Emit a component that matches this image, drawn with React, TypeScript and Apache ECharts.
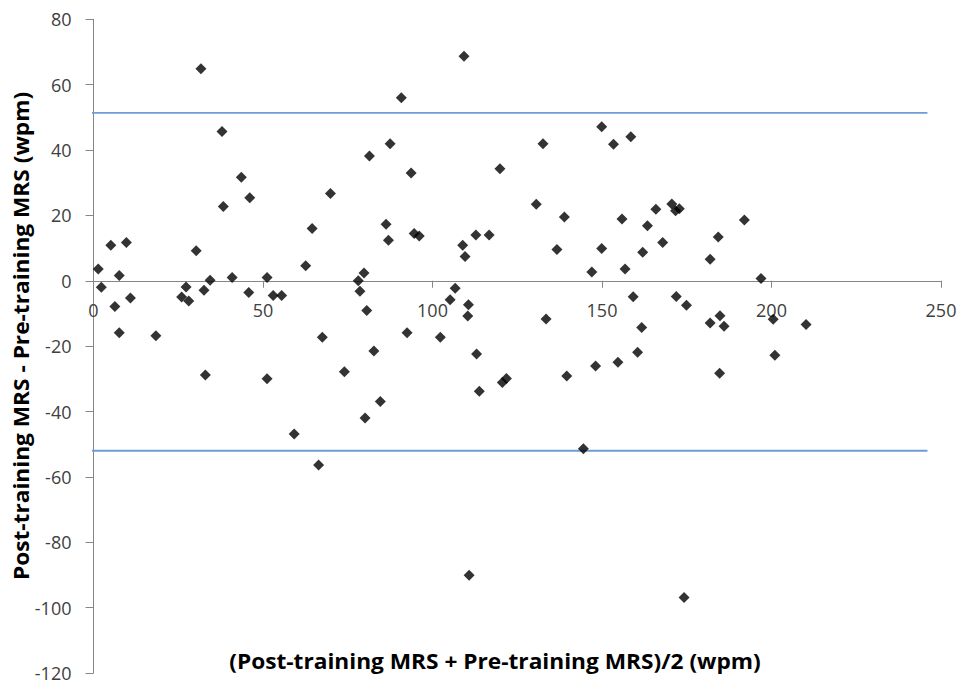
import { useEffect, useRef } from "react";
import * as echarts from "echarts";

// Mean of post- and pre-training MRS (wpm)
const meanWpm: number[] = [
  1.4, 2.3, 5.1, 6.3, 7.6, 9.7, 7.6, 10.9, 18.4,
  26.0, 27.3, 28.1, 30.3, 31.7, 32.6, 33.0, 34.4, 37.9, 38.3, 40.9, 43.6, 45.8, 46.1,
  51.2, 51.2, 53.0, 55.5, 59.2, 62.6, 64.5, 66.4, 67.5, 69.9,
  74.0, 78.1, 78.6, 79.8, 80.1, 80.6, 81.4, 82.7, 84.6, 86.3, 87.0, 87.5, 90.8, 92.5,
  93.7, 94.6, 96.1,
  102.3, 105.2, 106.7, 108.9, 109.3, 109.6, 110.6, 110.4, 110.8, 112.8, 113.0, 113.8,
  116.7, 119.9, 120.6, 121.8, 130.6, 132.6, 133.5, 136.7, 138.9, 139.6, 144.5, 147.0,
  148.1,
  149.9, 149.9, 153.4, 154.7, 155.9, 156.8, 158.5, 159.2, 160.5, 161.7, 162.0, 163.4,
  165.9, 167.9, 170.6, 171.7, 171.9, 172.8, 174.2, 174.9, 181.9, 181.9, 184.3, 184.8,
  184.7, 186.0, 192.0, 196.9, 200.5, 201.0, 210.2,
];

// Difference post-training minus pre-training MRS (wpm)
const diffWpm: number[] = [
  3.6, -2.0, 10.9, -7.9, 1.6, 11.7, -15.9, -5.3, -16.8,
  -5.0, -1.9, -6.2, 9.2, 64.9, -2.9, -28.8, 0.2, 45.7, 22.7, 1.0, 31.7, -3.6, 25.4,
  1.0, -30.0, -4.5, -4.5, -46.9, 4.6, 16.0, -56.4, -17.3, 26.7,
  -27.8, 0.0, -3.2, 2.4, -42.0, -9.1, 38.2, -21.5, -36.9, 17.3, 12.4, 41.9, 56.0, -15.9,
  33.0, 14.5, 13.7,
  -17.3, -5.8, -2.3, 10.9, 68.7, 7.4, -7.3, -10.8, -90.1, 14.0, -22.4, -33.8,
  14.0, 34.3, -31.1, -29.9, 23.4, 41.9, -11.7, 9.6, 19.5, -29.1, -51.4, 2.7,
  -26.1,
  47.1, 9.9, 41.8, -24.9, 18.9, 3.6, 44.1, -4.9, -21.9, -14.3, 8.7, 16.8,
  21.9, 11.7, 23.5, 21.4, -4.8, 22.0, -96.9, -7.5, 6.6, -12.9, 13.4, -10.7,
  -28.3, -13.9, 18.6, 0.7, -11.8, -22.8, -13.4,
];

// Limits of agreement
const upperLimit = 51.4;
const lowerLimit = -52.0;
const limitSpan: number[] = [-1.5, 246];

const xTitle = "(Post-training MRS + Pre-training MRS)/2 (wpm)";
const yTitle = "Post-training MRS - Pre-training MRS (wpm)";

const Y_MIN = -120;
const Y_MAX = 80;

export default function App() {
  const ref = useRef<HTMLDivElement>(null);

  useEffect(() => {
    if (!ref.current) return;
    const chart = echarts.init(ref.current, undefined, { renderer: "svg" });
    const points = meanWpm.map((x, i) => [x, diffWpm[i]]);
    const axisColor = "#868686";
    const gridTop = 19.3;
    const gridBottom = 11;
    const gridHeight = 684 - gridTop - gridBottom;
    // place the horizontal axis at y = 0
    const zeroOffset = -gridHeight * (0 - Y_MIN) / (Y_MAX - Y_MIN);
    const labelStyle = {
      color: "#404040",
      fontFamily: "Open Sans",
      fontSize: 18,
    };
    chart.setOption({
      animation: false,
      backgroundColor: "#ffffff",
      grid: {
        left: 93.5,
        right: 22,
        top: gridTop,
        bottom: gridBottom,
        containLabel: false,
        outerBoundsMode: "none",
      },
      xAxis: {
        type: "value",
        min: 0,
        max: 250,
        interval: 50,
        position: "bottom",
        offset: zeroOffset,
        axisLine: { show: true, onZero: false, lineStyle: { color: axisColor, width: 1 } },
        axisTick: { show: true, inside: false, length: 7, lineStyle: { color: axisColor } },
        axisLabel: { ...labelStyle, margin: 20 },
        splitLine: { show: false },
      },
      yAxis: {
        type: "value",
        min: Y_MIN,
        max: Y_MAX,
        interval: 20,
        axisLine: { show: true, onZero: false, lineStyle: { color: axisColor, width: 1 } },
        axisTick: { show: true, inside: false, length: 8, lineStyle: { color: axisColor } },
        axisLabel: { ...labelStyle, margin: 22 },
        splitLine: { show: false },
      },
      series: [
        {
          type: "line",
          data: limitSpan.map((x) => [x, upperLimit]),
          symbol: "none",
          clip: false,
          silent: true,
          lineStyle: { color: "#6f9bd6", width: 1.8 },
          z: 1,
        },
        {
          type: "line",
          data: limitSpan.map((x) => [x, lowerLimit]),
          symbol: "none",
          clip: false,
          silent: true,
          lineStyle: { color: "#6f9bd6", width: 1.8 },
          z: 1,
        },
        {
          type: "scatter",
          data: points,
          symbol: "diamond",
          symbolSize: 11,
          itemStyle: { color: "#000000" },
          z: 3,
        },
      ],
      graphic: [
        {
          type: "text",
          x: 495,
          y: 661,
          scaleX: 1.08,
          style: {
            text: xTitle,
            fill: "#000000",
            fontFamily: "Open Sans",
            fontWeight: "bold",
            fontSize: 21,
            align: "center",
            verticalAlign: "middle",
          },
        },
        {
          type: "text",
          x: 21,
          y: 336,
          rotation: Math.PI / 2,
          scaleX: 1.08,
          style: {
            text: yTitle,
            fill: "#000000",
            fontFamily: "Open Sans",
            fontWeight: "bold",
            fontSize: 21,
            align: "center",
            verticalAlign: "middle",
          },
        },
      ],
    });
    return () => chart.dispose();
  }, []);

  return (
    <div
      ref={ref}
      style={{ position: "fixed", left: 0, top: 0, width: 963, height: 684, background: "#fff" }}
    />
  );
}
